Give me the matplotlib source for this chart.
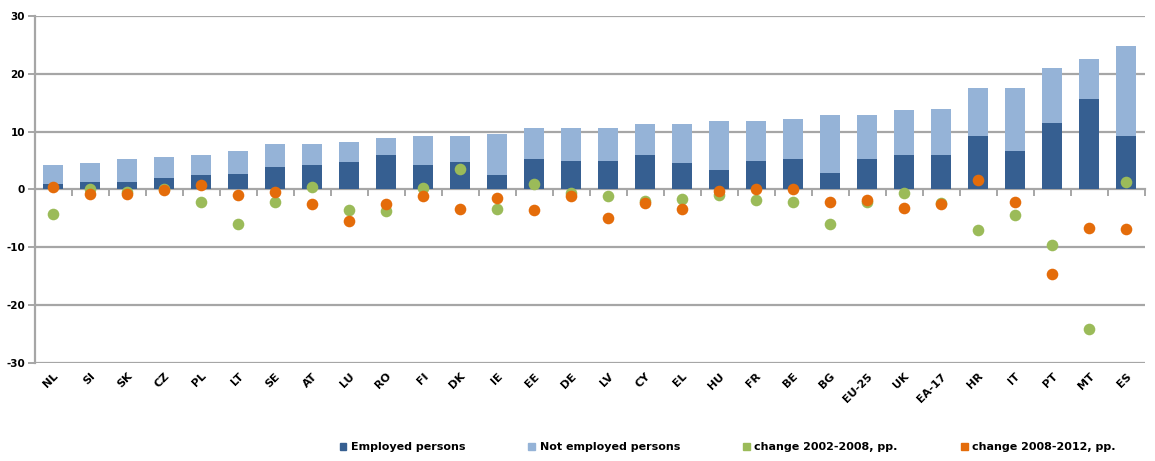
import matplotlib
matplotlib.use("Agg")
import matplotlib.pyplot as plt
from matplotlib.patches import Patch
import numpy as np

countries = ['NL', 'SI', 'SK', 'CZ', 'PL', 'LT', 'SE', 'AT', 'LU', 'RO',
             'FI', 'DK', 'IE', 'EE', 'DE', 'LV', 'CY', 'EL', 'HU', 'FR',
             'BE', 'BG', 'EU-25', 'UK', 'EA-17', 'HR', 'IT', 'PT', 'MT', 'ES']
employed = [1.0, 1.3, 1.3, 2.0, 2.5, 2.6, 3.9, 4.2, 4.7, 6.0,
            4.3, 4.7, 2.5, 5.3, 5.0, 5.0, 6.0, 4.6, 3.4, 4.9,
            5.3, 2.8, 5.3, 5.9, 5.9, 9.3, 6.6, 11.5, 15.6, 9.3]
total = [4.3, 4.6, 5.3, 5.6, 6.0, 6.7, 7.8, 7.8, 8.2, 8.9,
         9.3, 9.3, 9.6, 10.7, 10.7, 10.7, 11.4, 11.4, 11.8, 11.8,
         12.2, 12.9, 12.9, 13.7, 14.0, 17.6, 17.6, 21.0, 22.6, 24.8]
not_employed = [t - e for t, e in zip(total, employed)]
change_02_08 = [-4.3, 0.1, -0.5, 0.0, -2.1, -6.0, -2.1, 0.5, -3.6, -3.8,
                0.2, 3.6, -3.3, 1.0, -0.6, -1.2, -2.0, -1.6, -0.9, -1.8,
                -2.1, -5.9, -2.1, -0.6, -2.3, -7.0, -4.5, -9.6, -24.1, 1.3]
change_08_12 = [0.5, -0.7, -0.7, -0.1, 0.8, -1.0, -0.5, -2.5, -5.5, -2.5,
                -1.1, -3.3, -1.5, -3.6, -1.1, -4.9, -2.3, -3.3, -0.2, 0.1,
                0.0, -2.1, -1.9, -3.2, -2.5, 1.6, -2.1, -14.6, -6.7, -6.9]
yticks = [-30, -20, -10, 0, 10, 20, 30]

c_emp = '#365F91'
c_not = '#95B3D7'
c_g = '#9BBB59'
c_o = '#E46C0A'
grid_c = '#A6A6A6'

fig = plt.figure(figsize=(11.55, 4.61), dpi=100)
ax = fig.add_axes([0.030, 0.213, 0.961, 0.752])

x = np.arange(len(countries))
w = 0.55
ax.bar(x, employed, w, color=c_emp, zorder=3)
ax.bar(x, not_employed, w, bottom=employed, color=c_not, zorder=3)
ax.scatter(x, change_02_08, s=70, color=c_g, zorder=4, linewidths=0)
ax.scatter(x, change_08_12, s=70, color=c_o, zorder=5, linewidths=0)

ax.set_xlim(-0.5, len(countries) - 0.5)
ax.set_ylim(-30, 30)
ax.set_yticks(yticks)
ax.set_yticklabels([str(v) for v in yticks], fontsize=7.5, fontweight='bold')
for v in yticks:
    if v != 0:
        ax.axhline(v, color=grid_c, lw=1.6, zorder=1)

for s in ['top', 'right']:
    ax.spines[s].set_visible(False)
ax.spines['left'].set_color(grid_c)
ax.spines['left'].set_linewidth(1.6)
ax.tick_params(axis='y', color=grid_c, length=5, width=1.4, pad=2)

# category axis crosses at zero
ax.spines['bottom'].set_position(('data', 0))
ax.spines['bottom'].set_color(grid_c)
ax.spines['bottom'].set_linewidth(1.6)
ax.spines['bottom'].set_zorder(2)
ax.set_xticks(x)
ax.set_xticklabels([])
ax.tick_params(axis='x', which='major', length=0)
ax.set_xticks(np.arange(len(countries) + 1) - 0.5, minor=True)
ax.tick_params(axis='x', which='minor', direction='out', length=5, width=1.4, color=grid_c)

sec = ax.secondary_xaxis('bottom')
sec.set_xticks(x)
sec.set_xticklabels(countries, rotation=45, ha='right', rotation_mode='anchor',
                    fontsize=8, fontweight='bold')
sec.tick_params(axis='x', length=0, pad=6)
sec.spines['bottom'].set_visible(False)

handles = [Patch(color=c_emp), Patch(color=c_not),
           Patch(color=c_g), Patch(color=c_o)]
labels = ['Employed persons', 'Not employed persons',
          'change 2002-2008, pp.', 'change 2008-2012, pp.']
fig.legend(handles, labels, loc='center', bbox_to_anchor=(0.63, 0.03), ncol=4,
           frameon=False, handlelength=0.6, handleheight=0.6, handletextpad=0.4,
           columnspacing=5.7, prop={'size': 8, 'weight': 'bold'})

fig.savefig('out.png', dpi=100)
